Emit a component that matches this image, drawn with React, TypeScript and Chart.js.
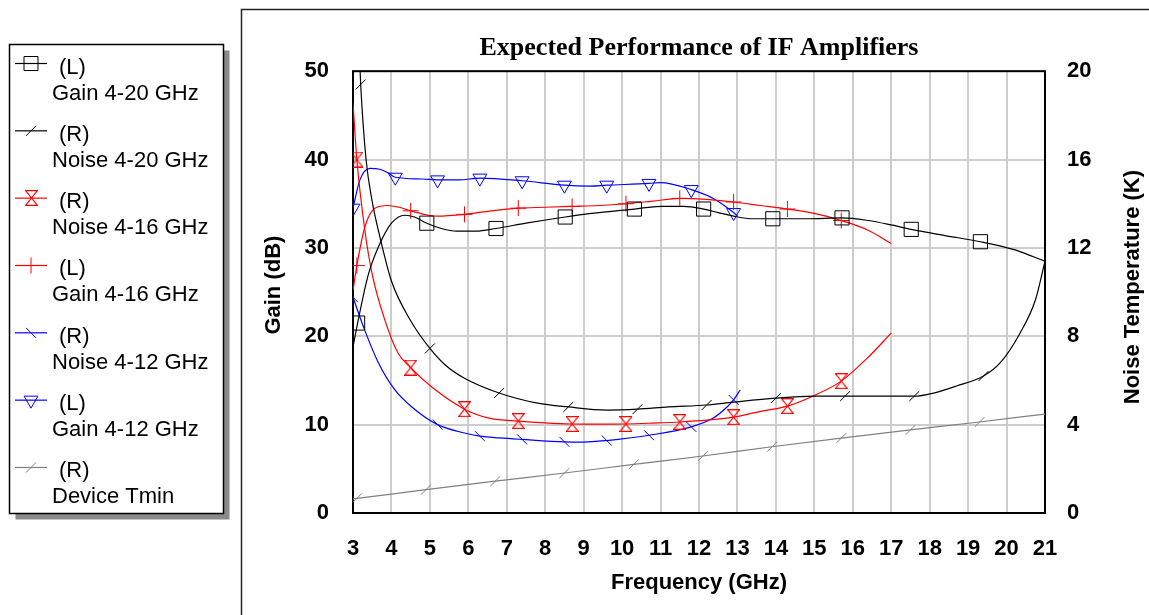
import React, { useEffect, useRef } from 'react';
import { Chart, registerables } from 'chart.js';

Chart.register(...registerables);

// ---------- text ----------
const chartTitle = 'Expected Performance of IF Amplifiers';
const xAxisTitle = 'Frequency (GHz)';
const leftAxisTitle = 'Gain (dB)';
const rightAxisTitle = 'Noise Temperature (K)';

// ---------- tick labels ----------
const xTicks = [3, 4, 5, 6, 7, 8, 9, 10, 11, 12, 13, 14, 15, 16, 17, 18, 19, 20, 21];
const gainTicks = [0, 10, 20, 30, 40, 50];
const noiseTicks = [0, 4, 8, 12, 16, 20];

// ---------- series (frequency in GHz, gain in dB, noise in K) ----------
const gain420X = [3.0, 3.12, 3.4, 3.66, 4.0, 4.35, 4.6, 4.92, 5.3, 5.7, 6.2, 6.72, 7.5, 8.52, 9.2, 10.32, 11.0, 11.6, 12.12, 12.5, 12.9, 13.4, 13.92, 14.8, 15.72, 16.4, 17.0, 17.52, 18.4, 19.32, 20.2, 20.7, 21.0];
const gain420Y = [18.8, 21.5, 27.0, 30.1, 32.8, 33.7, 33.5, 32.8, 32.2, 31.9, 31.9, 32.2, 32.8, 33.5, 33.9, 34.4, 34.7, 34.7, 34.4, 34.0, 33.6, 33.3, 33.3, 33.3, 33.4, 33.1, 32.6, 32.1, 31.4, 30.7, 29.8, 29.0, 28.5];
const gain420Marks = [3.12, 4.92, 6.72, 8.52, 10.32, 12.12, 13.92, 15.72, 17.52, 19.32];

const noise420X = [3.15, 3.2, 3.34, 3.5, 3.7, 4.0, 4.5, 5.0, 5.4, 5.9, 6.8, 7.8, 8.6, 9.6, 10.4, 11.2, 12.2, 12.9, 14.0, 15.0, 15.8, 16.7, 17.6, 18.1, 18.7, 19.4, 19.85, 20.35, 20.75, 21.0];
const noise420Y = [21.5, 19.4, 16.0, 14.1, 12.5, 10.5, 8.7, 7.45, 6.7, 6.1, 5.43, 4.97, 4.8, 4.66, 4.7, 4.8, 4.89, 5.02, 5.2, 5.29, 5.29, 5.29, 5.29, 5.43, 5.75, 6.2, 6.83, 8.14, 9.64, 11.4];
const noise420Marks = [3.2, 5.0, 6.8, 8.6, 10.4, 12.2, 14.0, 15.8, 17.6, 19.4];

const noise416X = [3.0, 3.1, 3.3, 3.5, 3.83, 4.17, 4.5, 5.05, 5.9, 6.57, 7.3, 8.0, 8.7, 9.4, 10.1, 10.8, 11.5, 12.2, 12.9, 13.6, 14.3, 14.97, 15.7, 16.37, 17.0];
const noise416Y = [18.55, 16.0, 12.9, 10.8, 8.73, 7.24, 6.58, 5.7, 4.7, 4.28, 4.16, 4.08, 4.03, 4.02, 4.03, 4.07, 4.12, 4.2, 4.34, 4.6, 4.84, 5.3, 5.97, 7.0, 8.14];
const noise416Marks = [3.1, 4.5, 5.9, 7.3, 8.7, 10.1, 11.5, 12.9, 14.3, 15.7];

const gain416X = [3.0, 3.1, 3.31, 3.57, 3.91, 4.2, 4.5, 4.85, 5.18, 5.9, 6.6, 7.3, 8.0, 8.7, 9.4, 10.1, 10.8, 11.5, 12.2, 12.9, 13.6, 14.3, 15.0, 15.7, 16.4, 17.0];
const gain416Y = [25.2, 28.0, 32.4, 34.5, 34.8, 34.6, 34.2, 33.8, 33.6, 33.8, 34.2, 34.5, 34.6, 34.7, 34.8, 35.0, 35.3, 35.6, 35.5, 35.2, 34.8, 34.4, 33.9, 33.1, 32.0, 30.5];
const gain416Marks = [3.1, 4.5, 5.9, 7.3, 8.7, 10.1, 11.5, 12.9, 14.3, 15.7];

const noise412X = [3.0, 3.3, 3.66, 4.09, 4.53, 5.2, 5.9, 6.3, 6.8, 7.4, 8.5, 9.0, 9.6, 10.7, 11.8, 12.37, 12.73, 12.9, 13.07];
const noise412Y = [9.77, 8.3, 6.8, 5.57, 4.8, 4.0, 3.62, 3.48, 3.4, 3.33, 3.22, 3.21, 3.28, 3.52, 3.9, 4.3, 4.8, 5.12, 5.57];
const noise412Marks = [3.0, 5.2, 6.3, 7.4, 8.5, 9.6, 10.7, 11.8, 12.9];

const gain412X = [3.0, 3.18, 3.44, 3.7, 3.91, 4.1, 4.8, 5.2, 5.75, 6.3, 7.4, 8.5, 9.17, 9.6, 10.7, 11.0, 11.8, 12.37, 12.9, 13.0];
const gain412Y = [34.5, 37.7, 39.0, 38.9, 38.5, 38.0, 37.8, 37.7, 37.7, 37.9, 37.6, 37.1, 37.0, 37.1, 37.3, 37.4, 36.6, 35.6, 34.0, 33.6];
const gain412Marks = [3.0, 4.1, 5.2, 6.3, 7.4, 8.5, 9.6, 10.7, 11.8, 12.9];

const tminX = [3.0, 3.1, 4.9, 6.7, 8.5, 10.3, 12.1, 13.9, 15.7, 17.5, 19.3, 21.0];
const tminY = [0.64, 0.66, 1.06, 1.44, 1.81, 2.2, 2.58, 3.0, 3.39, 3.76, 4.12, 4.48];
const tminMarks = [3.1, 4.9, 6.7, 8.5, 10.3, 12.1, 13.9, 15.7, 17.5, 19.3];

// ---------- legend text ----------
const legendSides = ['(L)', '(R)', '(R)', '(L)', '(R)', '(L)', '(R)'];
const legendNames = ['Gain 4-20 GHz', 'Noise 4-20 GHz', 'Noise 4-16 GHz', 'Gain 4-16 GHz', 'Noise 4-12 GHz', 'Gain 4-12 GHz', 'Device Tmin'];

type Kind = 'square' | 'slash' | 'backslash' | 'hourglass' | 'plus' | 'triDown';

const series: { xs: number[]; ys: number[]; marks: number[]; axis: string; color: string; kind: Kind }[] = [
  { xs: gain420X, ys: gain420Y, marks: gain420Marks, axis: 'yGain', color: '#000000', kind: 'square' },
  { xs: noise420X, ys: noise420Y, marks: noise420Marks, axis: 'yNoise', color: '#000000', kind: 'slash' },
  { xs: noise416X, ys: noise416Y, marks: noise416Marks, axis: 'yNoise', color: '#ff0000', kind: 'hourglass' },
  { xs: gain416X, ys: gain416Y, marks: gain416Marks, axis: 'yGain', color: '#ff0000', kind: 'plus' },
  { xs: noise412X, ys: noise412Y, marks: noise412Marks, axis: 'yNoise', color: '#0000ff', kind: 'backslash' },
  { xs: gain412X, ys: gain412Y, marks: gain412Marks, axis: 'yGain', color: '#0000ff', kind: 'triDown' },
  { xs: tminX, ys: tminY, marks: tminMarks, axis: 'yNoise', color: '#808080', kind: 'slash' },
];

const SANS = '"Liberation Sans", Arial, Helvetica, sans-serif';
const SERIF = '"Liberation Serif", "Times New Roman", serif';

function makeHourglass(color: string): HTMLCanvasElement {
  const c = document.createElement('canvas');
  c.width = 13;
  c.height = 16;
  const g = c.getContext('2d')!;
  g.strokeStyle = color;
  g.lineWidth = 1.2;
  g.beginPath();
  g.moveTo(0.6, 0.6);
  g.lineTo(12.4, 0.6);
  g.lineTo(0.6, 15.4);
  g.lineTo(12.4, 15.4);
  g.closePath();
  g.stroke();
  return c;
}

function pointStyleFor(kind: Kind, hg: HTMLCanvasElement) {
  switch (kind) {
    case 'square': return { style: 'rect', rotation: 0, radius: 10 };
    case 'slash': return { style: 'line', rotation: -45, radius: 7 };
    case 'backslash': return { style: 'line', rotation: 45, radius: 7 };
    case 'hourglass': return { style: hg, rotation: 0, radius: 6 };
    case 'plus': return { style: 'cross', rotation: 0, radius: 8 };
    case 'triDown': return { style: 'triangle', rotation: 180, radius: 8 };
  }
}

function drawLegendMarker(ctx: CanvasRenderingContext2D, kind: Kind, x: number, y: number, color: string, hg: HTMLCanvasElement) {
  ctx.save();
  ctx.strokeStyle = color;
  ctx.lineWidth = 1;
  ctx.beginPath();
  switch (kind) {
    case 'square':
      ctx.rect(x - 7, y - 7, 14, 14);
      break;
    case 'slash':
      ctx.moveTo(x - 5, y + 5);
      ctx.lineTo(x + 5, y - 5);
      break;
    case 'backslash':
      ctx.moveTo(x - 5, y - 5);
      ctx.lineTo(x + 5, y + 5);
      break;
    case 'plus':
      ctx.moveTo(x, y - 8);
      ctx.lineTo(x, y + 8);
      break;
    case 'triDown':
      ctx.moveTo(x, y + 8);
      ctx.lineTo(x - 6.93, y - 4);
      ctx.lineTo(x + 6.93, y - 4);
      ctx.closePath();
      break;
    case 'hourglass':
      ctx.drawImage(hg, Math.round(x - 6.5), Math.round(y - 8));
      break;
  }
  ctx.stroke();
  ctx.restore();
}

export default function App() {
  const ref = useRef<HTMLCanvasElement>(null);

  useEffect(() => {
    const canvas = ref.current!;
    const hg = makeHourglass('#ff0000');

    Chart.defaults.font.family = SANS;
    Chart.defaults.color = '#000000';

    const datasets = series.map((s, si) => {
      const ps = pointStyleFor(s.kind, hg);
      return {
        label: legendNames[si],
        data: s.xs.map((x, i) => ({ x, y: s.ys[i] })),
        yAxisID: s.axis,
        borderColor: s.color,
        borderWidth: 1.2,
        backgroundColor: 'rgba(0,0,0,0)',
        pointBackgroundColor: 'rgba(0,0,0,0)',
        pointBorderColor: s.color,
        pointBorderWidth: 1,
        pointStyle: ps.style as any,
        pointRotation: ps.rotation,
        pointRadius: (c: any) => (s.marks.some((m) => Math.abs(m - s.xs[c.dataIndex]) < 1e-6) ? ps.radius : 0),
        pointHoverRadius: 0,
        cubicInterpolationMode: 'monotone' as const,
        fill: false,
      };
    });

    const decorPlugin = {
      id: 'decor',
      beforeDraw(chart: any) {
        const ctx = chart.ctx as CanvasRenderingContext2D;
        ctx.save();
        ctx.fillStyle = '#ffffff';
        ctx.fillRect(0, 0, chart.width, chart.height);
        // outer frame of the chart panel
        ctx.strokeStyle = '#222222';
        ctx.lineWidth = 1.5;
        ctx.beginPath();
        ctx.moveTo(241.5, chart.height + 2);
        ctx.lineTo(241.5, 9.5);
        ctx.lineTo(chart.width + 2, 9.5);
        ctx.stroke();
        ctx.restore();
      },
      beforeDatasetsDraw(chart: any) {
        const ctx = chart.ctx as CanvasRenderingContext2D;
        const a = chart.chartArea;
        ctx.save();
        ctx.strokeStyle = '#000000';
        ctx.lineWidth = 2;
        ctx.strokeRect(a.left, a.top, a.right - a.left, a.bottom - a.top);
        ctx.restore();
      },
      afterDraw(chart: any) {
        const ctx = chart.ctx as CanvasRenderingContext2D;
        const a = chart.chartArea;
        ctx.save();
        // rotated axis titles (both read bottom-to-top)
        ctx.fillStyle = '#000000';
        ctx.font = `bold 22px ${SANS}`;
        ctx.textAlign = 'center';
        ctx.textBaseline = 'middle';
        ctx.save();
        ctx.translate(a.left - 79, (a.top + a.bottom) / 2 - 7);
        ctx.rotate(-Math.PI / 2);
        ctx.fillText(leftAxisTitle, 0, 0);
        ctx.restore();
        ctx.save();
        ctx.translate(a.right + 88, (a.top + a.bottom) / 2 - 5);
        ctx.rotate(-Math.PI / 2);
        ctx.fillText(rightAxisTitle, 0, 0);
        ctx.restore();

        // legend box with shadow
        const bx = 9.5, by = 44.5, bw = 214, bh = 469;
        ctx.fillStyle = '#8a8a8a';
        ctx.fillRect(bx + 6, by + 6, bw, bh);
        ctx.fillStyle = '#ffffff';
        ctx.fillRect(bx, by, bw, bh);
        ctx.strokeStyle = '#000000';
        ctx.lineWidth = 1.5;
        ctx.strokeRect(bx, by, bw, bh);

        ctx.font = `22px ${SANS}`;
        ctx.textAlign = 'left';
        ctx.textBaseline = 'alphabetic';
        series.forEach((s, i) => {
          const y = 63.5 + i * 67.33;
          ctx.strokeStyle = s.color;
          ctx.lineWidth = 1.2;
          ctx.beginPath();
          ctx.moveTo(15, y);
          ctx.lineTo(47, y);
          ctx.stroke();
          drawLegendMarker(ctx, s.kind, 31, y, s.color, hg);
          ctx.fillStyle = '#000000';
          ctx.fillText(legendSides[i], 59, y + 10);
          ctx.fillText(legendNames[i], 52, y + 36);
        });
        ctx.restore();
      },
    };

    const chart = new Chart(canvas, {
      type: 'line',
      data: { datasets: datasets as any },
      plugins: [decorPlugin],
      options: {
        responsive: false,
        animation: false,
        events: [],
        layout: { padding: { left: 250, right: 0, top: 0, bottom: 0 } },
        plugins: {
          legend: { display: false },
          tooltip: { enabled: false },
          title: {
            display: true,
            text: chartTitle,
            color: '#000000',
            fullSize: false,
            font: { family: SERIF, size: 26, weight: 'bold' },
            padding: { top: 33, bottom: 7 },
          },
        },
        scales: {
          x: {
            type: 'linear',
            min: xTicks[0],
            max: xTicks[xTicks.length - 1],
            afterBuildTicks: (s: any) => { s.ticks = xTicks.map((v) => ({ value: v })); },
            afterFit: (s: any) => { s.height = 102; },
            ticks: {
              color: '#000000',
              font: { size: 22, weight: 'bold' },
              padding: 23,
              autoSkip: false,
              maxRotation: 0,
              callback: (v: any) => String(v),
            },
            grid: { color: '#cdcdcd', lineWidth: 2, drawTicks: false },
            border: { display: false },
            title: {
              display: true,
              text: xAxisTitle,
              color: '#000000',
              font: { size: 22, weight: 'bold' },
              padding: { top: 0, bottom: 19 },
            },
          },
          yGain: {
            type: 'linear',
            position: 'left',
            min: gainTicks[0],
            max: gainTicks[gainTicks.length - 1],
            afterBuildTicks: (s: any) => { s.ticks = gainTicks.map((v) => ({ value: v })); },
            afterFit: (s: any) => { s.width = 103; },
            ticks: { color: '#000000', font: { size: 22, weight: 'bold' }, padding: 24, callback: (v: any) => String(v) },
            grid: { color: '#cdcdcd', lineWidth: 2, drawTicks: false },
            border: { display: false },
          },
          yNoise: {
            type: 'linear',
            position: 'right',
            min: noiseTicks[0],
            max: noiseTicks[noiseTicks.length - 1],
            afterBuildTicks: (s: any) => { s.ticks = noiseTicks.map((v) => ({ value: v })); },
            afterFit: (s: any) => { s.width = 104; },
            ticks: { color: '#000000', font: { size: 22, weight: 'bold' }, padding: 22, callback: (v: any) => String(v) },
            grid: { drawOnChartArea: false, drawTicks: false },
            border: { display: false },
          },
        },
      } as any,
    });

    return () => chart.destroy();
  }, []);

  return (
    <div style={{ position: 'fixed', left: 0, top: 0, width: 1149, height: 615, background: '#ffffff' }}>
      <canvas ref={ref} width={1149} height={615} style={{ display: 'block' }} />
    </div>
  );
}
